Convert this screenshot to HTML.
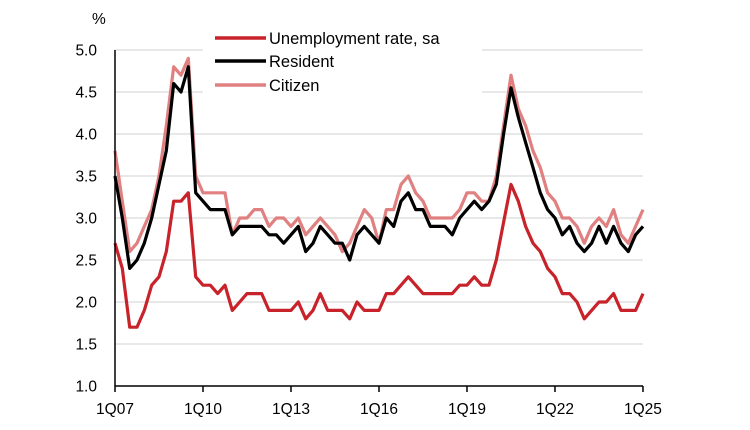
<!DOCTYPE html>
<html><head><meta charset="utf-8"><style>
html,body{margin:0;padding:0;background:#fff;}
svg{display:block;font-family:"Liberation Sans",Arial,sans-serif;}
</style></head><body>
<svg id="c" width="750" height="430" viewBox="0 0 750 430" xmlns="http://www.w3.org/2000/svg">
<g id="grid" stroke="#d9d9d9" stroke-width="1.3"></g>
<rect x="203" y="28" width="279" height="72" fill="#fff"/>
<g id="series" fill="none" stroke-width="3.2" stroke-linejoin="round"></g>
<line x1="115" y1="50" x2="115" y2="386" stroke="#000" stroke-width="1.5"/>
<line x1="115" y1="386" x2="643" y2="386" stroke="#000" stroke-width="1.5"/>
<g id="ticks" stroke="#000" stroke-width="1.5"></g>
<g id="labels" font-size="15.5" fill="#000"></g>
<text x="92" y="24" font-size="15.5">%</text>
<g font-size="16.5" fill="#000">
<line x1="215" y1="38" x2="266" y2="38" stroke="#c8222a" stroke-width="3.5"/>
<text x="269" y="44">Unemployment rate, sa</text>
<line x1="215" y1="61" x2="266" y2="61" stroke="#000" stroke-width="3.5"/>
<text x="269" y="67">Resident</text>
<line x1="215" y1="85" x2="266" y2="85" stroke="#e08080" stroke-width="3.5"/>
<text x="269" y="91">Citizen</text>
</g>
</svg>
<script>
var NS="http://www.w3.org/2000/svg";
function el(t,a,p,txt){var e=document.createElementNS(NS,t);for(var k in a)e.setAttribute(k,a[k]);if(txt)e.textContent=txt;document.getElementById(p).appendChild(e);}
function Y(v){return 386-(v-1)*84;}
function X(i){return 115+i*7.333;}
for(var v=1.5;v<=5.001;v+=0.5){el('line',{x1:115,x2:643,y1:Y(v),y2:Y(v)},'grid');}
for(var v=1;v<=5.001;v+=0.5){el('text',{x:97,y:Y(v)+5.5,'text-anchor':'end'},'labels',v.toFixed(1));}
var xl=['1Q07','1Q10','1Q13','1Q16','1Q19','1Q22','1Q25'];
for(var j=0;j<7;j++){var x=X(j*12);el('line',{x1:x,x2:x,y1:386,y2:392},'ticks');el('text',{x:x,y:414,'text-anchor':'middle'},'labels',xl[j]);}
var red=[2.7,2.4,1.7,1.7,1.9,2.2,2.3,2.6,3.2,3.2,3.3,2.3,2.2,2.2,2.1,2.2,1.9,2.0,2.1,2.1,2.1,1.9,1.9,1.9,1.9,2.0,1.8,1.9,2.1,1.9,1.9,1.9,1.8,2.0,1.9,1.9,1.9,2.1,2.1,2.2,2.3,2.2,2.1,2.1,2.1,2.1,2.1,2.2,2.2,2.3,2.2,2.2,2.5,2.95,3.4,3.2,2.9,2.7,2.6,2.4,2.3,2.1,2.1,2.0,1.8,1.9,2.0,2.0,2.1,1.9,1.9,1.9,2.1];
var blk=[3.5,3.0,2.4,2.5,2.7,3.0,3.4,3.8,4.6,4.5,4.8,3.3,3.2,3.1,3.1,3.1,2.8,2.9,2.9,2.9,2.9,2.8,2.8,2.7,2.8,2.9,2.6,2.7,2.9,2.8,2.7,2.7,2.5,2.8,2.9,2.8,2.7,3.0,2.9,3.2,3.3,3.1,3.1,2.9,2.9,2.9,2.8,3.0,3.1,3.2,3.1,3.2,3.4,4.0,4.55,4.2,3.9,3.6,3.3,3.1,3.0,2.8,2.9,2.7,2.6,2.7,2.9,2.7,2.9,2.7,2.6,2.8,2.9];
var pnk=[3.8,3.2,2.6,2.7,2.9,3.1,3.5,4.1,4.8,4.7,4.9,3.5,3.3,3.3,3.3,3.3,2.8,3.0,3.0,3.1,3.1,2.9,3.0,3.0,2.9,3.0,2.8,2.9,3.0,2.9,2.8,2.6,2.7,2.9,3.1,3.0,2.7,3.1,3.1,3.4,3.5,3.3,3.2,3.0,3.0,3.0,3.0,3.1,3.3,3.3,3.2,3.2,3.5,4.1,4.7,4.3,4.1,3.8,3.6,3.3,3.2,3.0,3.0,2.9,2.7,2.9,3.0,2.9,3.1,2.8,2.7,2.9,3.1];
function pl(d,c){var p=d.map(function(v,i){return X(i).toFixed(1)+','+Y(v).toFixed(1);}).join(' ');el('polyline',{points:p,stroke:c},'series');}
pl(pnk,'#e08080');pl(blk,'#000');pl(red,'#c8222a');
</script>
</body></html>
